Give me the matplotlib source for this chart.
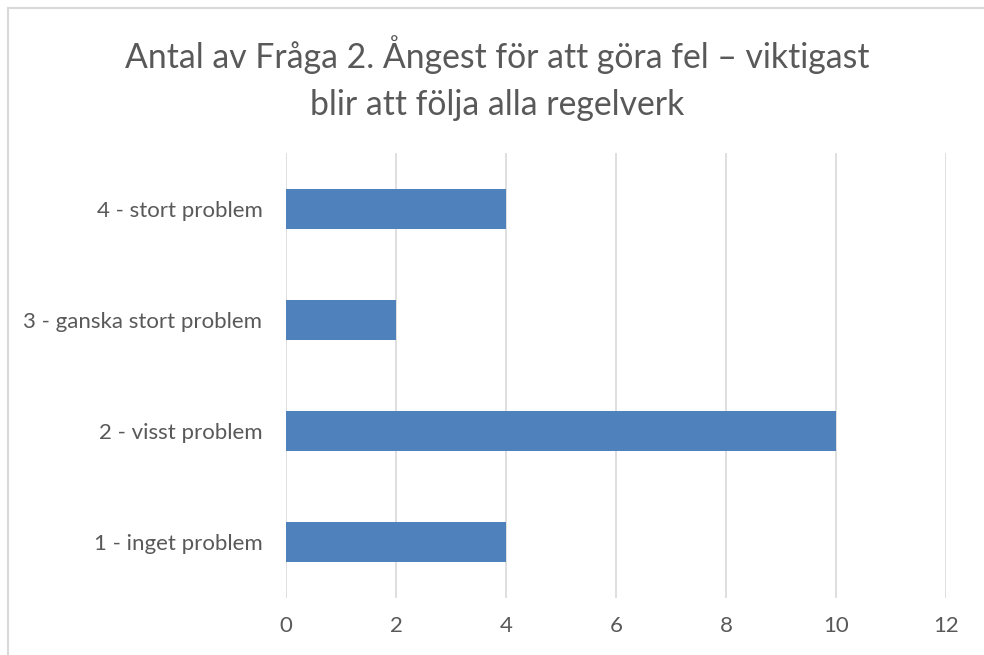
import matplotlib.pyplot as plt
from matplotlib.patches import Rectangle

# ---------------- DATA ----------------

categories = [
    '1 - inget problem',
    '2 - visst problem',
    '3 - ganska stort problem',
    '4 - stort problem',
]
counts = [4, 10, 2, 4]
x_ticks = [0, 2, 4, 6, 8, 10, 12]

title = 'Antal av Fråga 2. Ångest för att göra fel – viktigast\nblir att följa alla regelverk'

# ---------------- FIGURE ----------------

plt.rcParams['font.family'] = ['Lato', 'DejaVu Sans']
text_color = '#595959'

fig = plt.figure(figsize=(9.84, 6.55), dpi=100)
ax = fig.add_axes([286 / 984, 1 - 598 / 655, 660 / 984, 445 / 655])

# chart border (left and top visible)
fig.patches.append(Rectangle((8 / 984, -0.1), 1.2, 1.1 - 8 / 655,
                             transform=fig.transFigure, fill=False,
                             edgecolor='#D9D9D9', linewidth=1.5))

ax.barh(range(len(categories)), counts, height=0.36, color='#4F81BD', zorder=3)

ax.set_xlim(0, 12)
ax.set_ylim(-0.5, len(categories) - 0.5)
ax.set_xticks(x_ticks)
ax.set_yticks(range(len(categories)))
ax.set_yticklabels(categories)

ax.grid(axis='x', color='#D9D9D9', linewidth=1.2, zorder=0)
for s in ax.spines.values():
    s.set_visible(False)

ax.tick_params(axis='both', length=0, labelsize=16, colors=text_color)
ax.tick_params(axis='x', pad=13)
ax.tick_params(axis='y', pad=17)

fig.text(0.505, 1 - 78 / 655, title, ha='center', va='center',
         fontsize=24.3, color=text_color, linespacing=1.6)

fig.savefig('out.png', dpi=100)
